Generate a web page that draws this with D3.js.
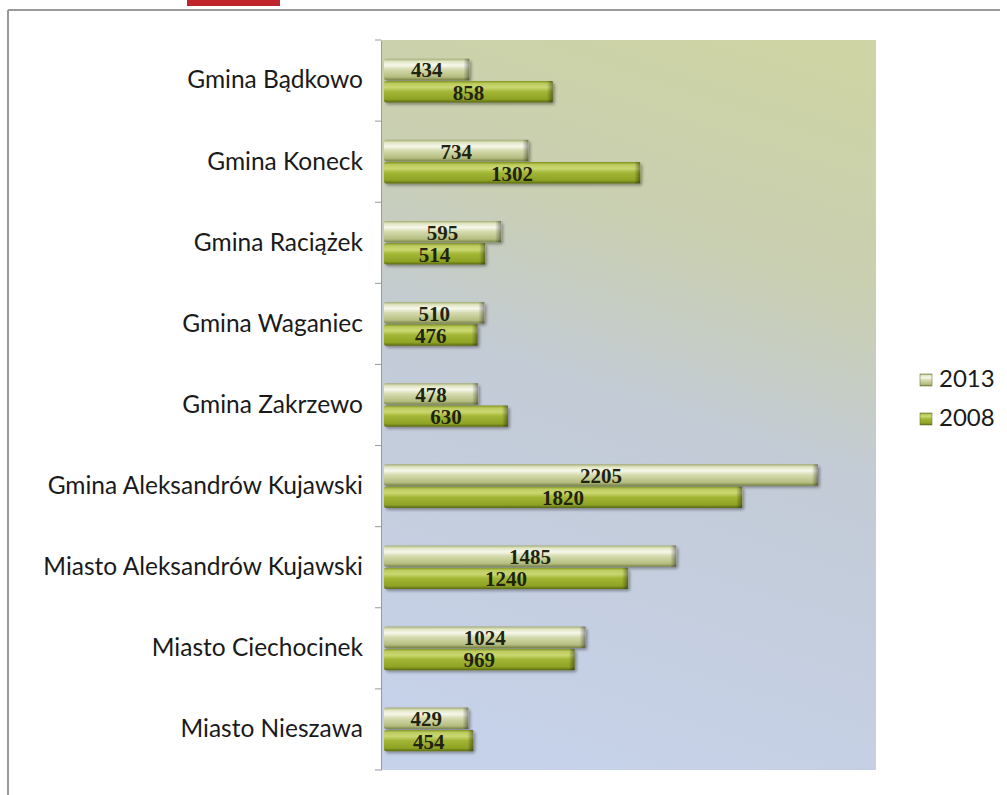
<!DOCTYPE html>
<html>
<head>
<meta charset="utf-8">
<script src="https://cdn.jsdelivr.net/npm/d3@7/dist/d3.min.js"></script>
<style>
  html, body { margin: 0; padding: 0; background: #ffffff; }
  svg { display: block; }
</style>
</head>
<body>
<svg id="chart" width="1007" height="795"></svg>
<script>
const categories = [
  "Gmina Bądkowo",
  "Gmina Koneck",
  "Gmina Raciążek",
  "Gmina Waganiec",
  "Gmina Zakrzewo",
  "Gmina Aleksandrów Kujawski",
  "Miasto Aleksandrów Kujawski",
  "Miasto Ciechocinek",
  "Miasto Nieszawa"
];
const seriesNames = ["2013", "2008"];
const values2013 = [434, 734, 595, 510, 478, 2205, 1485, 1024, 429];
const values2008 = [858, 1302, 514, 476, 630, 1820, 1240, 969, 454];
const xDomainMax = 2500;

const svg = d3.select("#chart");
const defs = svg.append("defs");

// plot area
const plot = { left: 382, right: 876, top: 40, bottom: 770 };

// background gradient (greenish top, bluish bottom)
const bg = defs.append("linearGradient").attr("id", "bgGrad")
  .attr("gradientUnits", "userSpaceOnUse")
  .attr("x1", 760).attr("y1", 40).attr("x2", 520).attr("y2", 770);
bg.append("stop").attr("offset", "0").attr("stop-color", "#ced4a4");
bg.append("stop").attr("offset", "0.28").attr("stop-color", "#c9cfb2");
bg.append("stop").attr("offset", "0.5").attr("stop-color", "#c3cbd6");
bg.append("stop").attr("offset", "1").attr("stop-color", "#c6d2ea");

// bar gradients
const g13 = defs.append("linearGradient").attr("id", "g2013").attr("x1", 0).attr("y1", 0).attr("x2", 0).attr("y2", 1);
[["0", "#a3ab72"], ["0.12", "#dfe4c0"], ["0.3", "#f7f8ec"], ["0.5", "#d5dbae"], ["0.85", "#b5bd80"], ["1", "#7a8446"]]
  .forEach(([o, c]) => g13.append("stop").attr("offset", o).attr("stop-color", c));
const g08 = defs.append("linearGradient").attr("id", "g2008").attr("x1", 0).attr("y1", 0).attr("x2", 0).attr("y2", 1);
[["0", "#80921e"], ["0.12", "#bccb5e"], ["0.3", "#cbd872"], ["0.5", "#a3b635"], ["0.85", "#8fa325"], ["1", "#5a6912"]]
  .forEach(([o, c]) => g08.append("stop").attr("offset", o).attr("stop-color", c));
const endG = defs.append("linearGradient").attr("id", "endGrad").attr("x1", 0).attr("y1", 0).attr("x2", 1).attr("y2", 0);
endG.append("stop").attr("offset", "0").attr("stop-color", "#000").attr("stop-opacity", 0);
endG.append("stop").attr("offset", "1").attr("stop-color", "#000").attr("stop-opacity", 0.4);

const shadow = defs.append("filter").attr("id", "shadow").attr("x", "-5%").attr("y", "-30%").attr("width", "115%").attr("height", "180%");
shadow.append("feDropShadow").attr("dx", 2).attr("dy", 2).attr("stdDeviation", 1.5)
  .attr("flood-color", "#000").attr("flood-opacity", 0.35);

const fills = { "2013": "url(#g2013)", "2008": "url(#g2008)" };

// page frame (scanned page)
svg.append("rect").attr("x", 187).attr("y", -2).attr("width", 93).attr("height", 8).attr("fill", "#c0242c");
svg.append("line").attr("x1", 8).attr("x2", 1000).attr("y1", 10).attr("y2", 10)
  .attr("stroke", "#9a9a9a").attr("stroke-width", 2);
svg.append("line").attr("x1", 8).attr("x2", 8).attr("y1", 10).attr("y2", 795)
  .attr("stroke", "#9a9a9a").attr("stroke-width", 2);

// plot background
svg.append("rect").attr("x", plot.left).attr("y", plot.top)
  .attr("width", plot.right - plot.left).attr("height", plot.bottom - plot.top)
  .attr("fill", "url(#bgGrad)");

// scales
const y = d3.scaleBand().domain(categories).range([plot.top, plot.bottom])
  .paddingInner(0.44).paddingOuter(0.22);
const ySub = d3.scaleBand().domain(seriesNames).range([0, y.bandwidth()]).padding(0.04);
const x = d3.scaleLinear().domain([0, xDomainMax]).range([plot.left + 2, plot.right]);

const data = categories.map((c, i) => ({ cat: c, vals: [
  { s: "2013", v: values2013[i] }, { s: "2008", v: values2008[i] }
]}));

const groups = svg.append("g").selectAll("g.cat").data(data).join("g")
  .attr("class", "cat")
  .attr("transform", d => `translate(0,${y(d.cat)})`);

const bars = groups.selectAll("g.bar").data(d => d.vals).join("g").attr("class", "bar");
bars.append("rect")
  .attr("x", x(0)).attr("y", d => ySub(d.s))
  .attr("width", d => x(d.v) - x(0)).attr("height", ySub.bandwidth())
  .attr("rx", 2)
  .attr("fill", d => fills[d.s])
  .attr("filter", "url(#shadow)");
bars.append("rect")
  .attr("x", d => x(d.v) - 6).attr("y", d => ySub(d.s))
  .attr("width", 6).attr("height", ySub.bandwidth())
  .attr("fill", "url(#endGrad)");
bars.append("text")
  .attr("x", d => (x(0) + x(d.v)) / 2)
  .attr("y", d => ySub(d.s) + ySub.bandwidth() / 2 + 8)
  .attr("text-anchor", "middle")
  .attr("font-family", "'Liberation Serif', 'DejaVu Serif', serif")
  .attr("font-weight", "bold")
  .attr("font-size", 21)
  .attr("fill", "#1e2410")
  .text(d => d.v);

// axis
const axis = d3.axisLeft(y).tickSize(0).tickPadding(18);
const ax = svg.append("g").attr("transform", `translate(${plot.left - 1},0)`).call(axis);
ax.select(".domain").attr("stroke", "#9a9a9a").attr("stroke-width", 1);
ax.selectAll("text")
  .attr("font-family", "Lato, 'Open Sans', sans-serif")
  .attr("font-size", 24.5)
  .attr("fill", "#1a1a1a");
// category boundary ticks
const boundaries = d3.range(categories.length + 1).map(i => plot.top + i * y.step());
svg.append("g").selectAll("line").data(boundaries).join("line")
  .attr("x1", plot.left - 7).attr("x2", plot.left - 1)
  .attr("y1", d => d).attr("y2", d => d)
  .attr("stroke", "#9a9a9a");

// legend
const legend = svg.append("g").selectAll("g").data(seriesNames).join("g")
  .attr("transform", (d, i) => `translate(920,${374 + i * 39})`);
legend.append("rect").attr("x", 0).attr("y", 0).attr("width", 12).attr("height", 12)
  .attr("fill", d => fills[d]).attr("stroke", "#6e7840").attr("stroke-width", 0.6);
legend.append("text").attr("x", 19).attr("y", 13)
  .attr("font-family", "Lato, 'Open Sans', sans-serif")
  .attr("font-size", 24).attr("fill", "#1a1a1a")
  .text(d => d);
</script>
</body>
</html>
